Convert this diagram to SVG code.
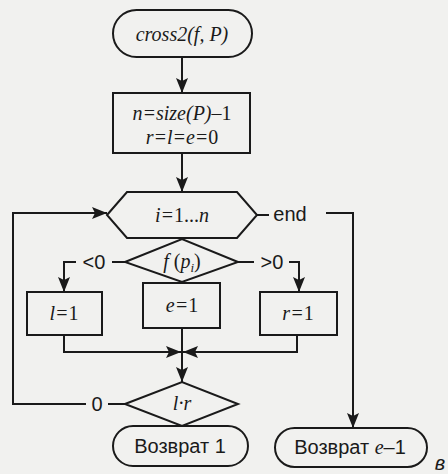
<svg xmlns="http://www.w3.org/2000/svg" width="448" height="474" viewBox="0 0 448 474">
<defs>
<marker id="ah" markerUnits="userSpaceOnUse" markerWidth="15" markerHeight="12" refX="15" refY="6" orient="auto">
<path d="M0,0 L15,6 L0,12 L3,6 z" fill="#1a1a1a"/>
</marker>
<style>
.shape{fill:#f1f1ef;stroke:#1a1a1a;stroke-width:2}
.line{fill:none;stroke:#1a1a1a;stroke-width:2}
.arr{marker-end:url(#ah)}
.m{font-family:"Liberation Serif","Times New Roman",serif;font-style:italic;font-size:20px;fill:#1a1a1a;text-anchor:middle}
.s{font-family:"Liberation Sans",Arial,sans-serif;font-size:20px;fill:#1a1a1a;text-anchor:middle}
.up{font-style:normal}
</style>
</defs>
<rect x="0" y="0" width="448" height="474" fill="#f1f1ef"/>
<g id="connectors">
<path class="line arr" d="M182,57 L182,93"/>
<path class="line arr" d="M182,153 L182,192"/>
<path class="line" d="M257,215 L269,215"/>
<path class="line arr" d="M326,213 L353,213 L353,428"/>
<path class="line" d="M125,262 L112,262"/>
<path class="line arr" d="M76,262 L64,262 L64,292"/>
<path class="line" d="M238,262 L254,262"/>
<path class="line arr" d="M289,262 L299,262 L299,292"/>
<path class="line arr" d="M64,335 L64,352 L181,352"/>
<path class="line arr" d="M297,335 L297,352 L183,352"/>
<path class="line arr" d="M182,328 L182,382"/>
<path class="line" d="M125,404 L108,404"/>
<path class="line arr" d="M86,404 L13,404 L13,213 L107,213"/>
</g>
<g id="start">
<rect class="shape" x="113" y="10" width="139" height="47" rx="23.5"/>
<text class="m" x="182" y="41">cross2(f, P)</text>
</g>
<g id="init">
<rect class="shape" x="113" y="93" width="137" height="60"/>
<text class="m" x="182" y="120">n=size(P)<tspan class="up">–1</tspan></text>
<text class="m" x="182" y="144">r=l=e=<tspan class="up">0</tspan></text>
</g>
<g id="loop">
<path class="shape" d="M107,215 L127,192 L237,192 L257,215 L237,238 L127,238 z"/>
<text class="m" x="182" y="222">i=<tspan class="up">1...</tspan>n</text>
<text class="s" x="290" y="221">end</text>
</g>
<g id="sign">
<path class="shape" d="M125,262 L182,239 L238,262 L182,282 z"/>
<text class="m" x="182" y="268">f <tspan class="up">(</tspan>p<tspan font-size="13" dy="4">i</tspan><tspan class="up" dy="-4">)</tspan></text>
<text class="s" x="94" y="269">&lt;0</text>
<text class="s" x="272" y="269">&gt;0</text>
</g>
<g id="setl">
<rect class="shape" x="27" y="292" width="75" height="43"/>
<text class="m" x="64" y="320">l=<tspan class="up">1</tspan></text>
</g>
<g id="sete">
<rect class="shape" x="143" y="283" width="77" height="45"/>
<text class="m" x="182" y="312">e=<tspan class="up">1</tspan></text>
</g>
<g id="setr">
<rect class="shape" x="260" y="292" width="77" height="43"/>
<text class="m" x="298" y="320">r=<tspan class="up">1</tspan></text>
</g>
<g id="check">
<path class="shape" d="M125,404 L182,382 L238,404 L182,426 z"/>
<text class="m" x="182" y="410">l·r</text>
<text class="s" x="97" y="411">0</text>
</g>
<g id="ret1">
<rect class="shape" x="113" y="426" width="135" height="40" rx="20"/>
<text class="s" x="180" y="453">Возврат 1</text>
</g>
<g id="ret2">
<rect class="shape" x="275" y="428" width="152" height="39" rx="19.5"/>
<text class="s" x="350" y="454">Возврат <tspan class="m">e</tspan>–1</text>
</g>
<text class="s" x="440" y="470" font-style="italic" font-size="14">в</text>
</svg>
